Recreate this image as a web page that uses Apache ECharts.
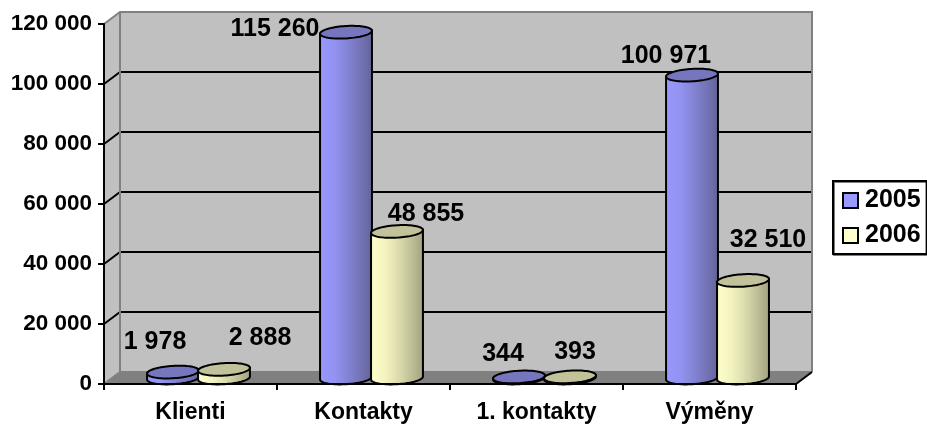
<!DOCTYPE html>
<html>
<head>
<meta charset="utf-8">
<script src="https://cdn.jsdelivr.net/npm/echarts@6/dist/echarts.min.js"></script>
<style>html,body{margin:0;padding:0;background:#fff}#c{width:927px;height:426px}</style>
</head>
<body>
<div id="c"></div>
<script>
var categories = ['Klienti', 'Kontakty', '1. kontakty', 'Výměny'];
var values2005 = [1978, 115260, 344, 100971];
var values2006 = [2888, 48855, 393, 32510];
var tickValues = [0, 20000, 40000, 60000, 80000, 100000, 120000];

// layout (pixels), separate from the data
var labelShift2005 = [[-18, -30], [-71, -3], [-16, -23], [-26, -19]];
var labelShift2006 = [[36, -31], [29, -17], [5, -25], [25, -40]];
var FONT = 'bold 25px "Liberation Sans", Arial, sans-serif';
var DX = 16, DY = 12, R = 26, RY = 6.2, TILT = -3.5 * Math.PI / 180;

function fmt(v) { return String(v).replace(/\B(?=(\d{3})+$)/g, ' '); }

function ellipsePts(cx, cy, from, to, n) {
  var pts = [];
  for (var i = 0; i <= n; i++) {
    var t = from + (to - from) * i / n;
    var x = R * Math.cos(t), y = RY * Math.sin(t);
    pts.push([cx + x * Math.cos(TILT) - y * Math.sin(TILT),
              cy + x * Math.sin(TILT) + y * Math.cos(TILT)]);
  }
  return pts;
}

function cylinder(side, stops, capColor, shifts) {
  return function (params, api) {
    var i = api.value(0), v = api.value(1);
    var bandW = api.size([1, 0])[0];
    var c0 = api.coord([i, 0]), c1 = api.coord([i, v]);
    var cx = c0[0] + DX / 2 + side * bandW * 0.1474;
    var by = c0[1] - DY / 2, ty = c1[1] - DY / 2;
    // body: top rim's two ends (the cap covers the rest), then front half of the bottom rim
    var front = ellipsePts(cx, ty, Math.PI, 0, 1).concat(ellipsePts(cx, by, 0, Math.PI, 40));
    var capPts = ellipsePts(cx, ty, 0, 2 * Math.PI, 80);
    return {
      type: 'group',
      children: [
        { type: 'polygon', shape: { points: front },
          style: { fill: new echarts.graphic.LinearGradient(0, 0, 1, 0, stops), stroke: '#000', lineWidth: 2 } },
        { type: 'polygon', shape: { points: capPts },
          style: { fill: capColor, stroke: '#000', lineWidth: 2 } },
        { type: 'text', z2: 50, style: { text: fmt(v), x: cx + shifts[i][0], y: ty + shifts[i][1],
          textAlign: 'center', textVerticalAlign: 'middle', font: FONT, fill: '#000' } }
      ]
    };
  };
}

function renderScene(params, api) {
  var g = params.coordSys;
  var L = g.x, T = g.y, W = g.width, H = g.height, B = T + H, Rt = L + W;
  var kids = [
    { type: 'polygon', shape: { points: [[L + DX, T - DY], [Rt + DX, T - DY], [Rt + DX, B - DY], [L + DX, B - DY]] },
      style: { fill: '#C0C0C0' } },
    { type: 'polygon', shape: { points: [[L, T], [L + DX, T - DY], [L + DX, B - DY], [L, B]] },
      style: { fill: '#C0C0C0' } },
    { type: 'polygon', shape: { points: [[L, B], [L + DX, B - DY], [Rt + DX, B - DY], [Rt, B]] },
      style: { fill: '#808080' } }
  ];
  tickValues.forEach(function (t) {
    if (t === 0 || t === tickValues[tickValues.length - 1]) return;
    var y = api.coord([0, t])[1];
    kids.push({ type: 'polyline', shape: { points: [[L, y], [L + DX, y - DY], [Rt + DX, y - DY]] },
      style: { fill: 'none', stroke: '#000', lineWidth: 2 } });
  });
  kids.push({ type: 'polyline', shape: { points: [[L, T], [L + DX, T - DY], [Rt + DX, T - DY], [Rt + DX, B - DY]] },
    style: { fill: 'none', stroke: '#808080', lineWidth: 2 } });
  kids.push({ type: 'polyline', shape: { points: [[L, B], [L + DX, B - DY], [L + DX, T - DY]] },
    style: { fill: 'none', stroke: '#808080', lineWidth: 2 } });
  kids.push({ type: 'polyline', shape: { points: [[L + DX, B - DY], [Rt + DX, B - DY]] },
    style: { fill: 'none', stroke: '#808080', lineWidth: 2 } });
  kids.push({ type: 'line', shape: { x1: Rt, y1: B, x2: Rt + DX, y2: B - DY },
    style: { stroke: '#000', lineWidth: 2 } });
  return { type: 'group', children: kids };
}

var blueStops = [
  { offset: 0, color: '#9999FF' }, { offset: 0.3, color: '#9292F0' },
  { offset: 0.6, color: '#7F7FCC' }, { offset: 1, color: '#636396' }
];
var creamStops = [
  { offset: 0, color: '#FFFFCC' }, { offset: 0.3, color: '#F2F2C0' },
  { offset: 0.6, color: '#D4D4A8' }, { offset: 1, color: '#A0A080' }
];

var chart = echarts.init(document.getElementById('c'), null, { renderer: 'canvas' });
chart.setOption({
  animation: false,
  backgroundColor: '#fff',
  tooltip: { show: false },
  grid: { left: 104, top: 24, width: 692, height: 360, containLabel: false },
  xAxis: {
    type: 'category', data: categories, z: 5,
    axisLine: { show: true, onZero: false, lineStyle: { color: '#000', width: 2 } },
    axisTick: { show: true, alignWithLabel: false, length: 6, lineStyle: { color: '#000', width: 2 } },
    axisLabel: { color: '#000', fontFamily: '"Liberation Sans", Arial, sans-serif', fontWeight: 'bold', fontSize: 23, margin: 17, interval: 0 },
    splitLine: { show: false }
  },
  yAxis: {
    type: 'value', min: 0, max: 120000, interval: 20000, z: 5,
    axisLine: { show: true, lineStyle: { color: '#000', width: 2 } },
    axisTick: { show: true, length: 6, lineStyle: { color: '#000', width: 2 } },
    axisLabel: { color: '#000', fontFamily: '"Liberation Sans", Arial, sans-serif', fontWeight: 'bold', fontSize: 22.5, margin: 12, formatter: fmt },
    splitLine: { show: false }
  },
  legend: {
    left: 833, top: 181, orient: 'vertical', width: 93, height: 72,
    padding: [7, 6, 6, 9], itemGap: 10, itemWidth: 15, itemHeight: 15,
    backgroundColor: '#fff', borderColor: '#000', borderWidth: 2,
    shadowColor: '#808080', shadowBlur: 0, shadowOffsetX: 1, shadowOffsetY: 1,
    icon: 'rect', selectedMode: false,
    textStyle: { color: '#000', fontFamily: '"Liberation Sans", Arial, sans-serif', fontWeight: 'bold', fontSize: 25, padding: [0, 0, 0, 2] },
    data: [
      { name: '2005', itemStyle: { color: '#9999FF', borderColor: '#000', borderWidth: 2 } },
      { name: '2006', itemStyle: { color: '#FFFFCC', borderColor: '#000', borderWidth: 2 } }
    ]
  },
  series: [
    { type: 'custom', name: 'scene', z: 1, silent: true, renderItem: renderScene, data: [0] , clip: false},
    { type: 'custom', name: '2005', z: 2, clip: false, itemStyle: { color: '#9999FF' },
      renderItem: cylinder(-1, blueStops, '#7676BE', labelShift2005),
      encode: { x: 0, y: 1 }, data: values2005.map(function (v, i) { return [i, v]; }) },
    { type: 'custom', name: '2006', z: 3, clip: false, itemStyle: { color: '#FFFFCC' },
      renderItem: cylinder(1, creamStops, '#C2C29A', labelShift2006),
      encode: { x: 0, y: 1 }, data: values2006.map(function (v, i) { return [i, v]; }) }
  ]
});
</script>
</body>
</html>
